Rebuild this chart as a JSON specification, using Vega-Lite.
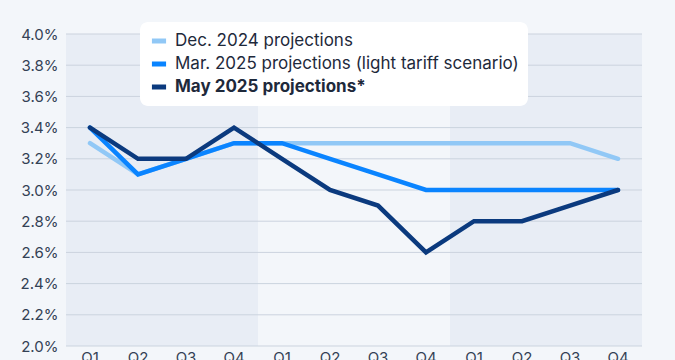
{
  "$schema": "https://vega.github.io/schema/vega-lite/v6.json",
  "autosize": {"type": "none"},
  "width": 576,
  "height": 312,
  "padding": {"left": 66, "top": 34, "right": 33, "bottom": 14},
  "background": "#f3f6fa",
  "config": {
    "view": {"stroke": null},
    "font": "Inter",
    "axis": {"labelFont": "Inter", "labelColor": "#334155", "labelFontSize": 15, "domain": false, "ticks": false, "grid": false, "title": null, "labelOverlap": false}
  },
  "datasets": {
    "bands": [
      {"q": "2025 Q1", "year": "2025"}, {"q": "2025 Q2", "year": "2025"}, {"q": "2025 Q3", "year": "2025"}, {"q": "2025 Q4", "year": "2025"},
      {"q": "2026 Q1", "year": "2026"}, {"q": "2026 Q2", "year": "2026"}, {"q": "2026 Q3", "year": "2026"}, {"q": "2026 Q4", "year": "2026"},
      {"q": "2027 Q1", "year": "2027"}, {"q": "2027 Q2", "year": "2027"}, {"q": "2027 Q3", "year": "2027"}, {"q": "2027 Q4", "year": "2027"}
    ],
    "grid": [{"v": 2.0}, {"v": 2.2}, {"v": 2.4}, {"v": 2.6}, {"v": 2.8}, {"v": 3.0}, {"v": 3.2}, {"v": 3.4}, {"v": 3.6}, {"v": 3.8}, {"v": 4.0}],
    "lines": [
      {"q": "2025 Q1", "series": "Dec. 2024 projections", "value": 3.3},
      {"q": "2025 Q2", "series": "Dec. 2024 projections", "value": 3.1},
      {"q": "2025 Q3", "series": "Dec. 2024 projections", "value": 3.2},
      {"q": "2025 Q4", "series": "Dec. 2024 projections", "value": 3.3},
      {"q": "2026 Q1", "series": "Dec. 2024 projections", "value": 3.3},
      {"q": "2026 Q2", "series": "Dec. 2024 projections", "value": 3.3},
      {"q": "2026 Q3", "series": "Dec. 2024 projections", "value": 3.3},
      {"q": "2026 Q4", "series": "Dec. 2024 projections", "value": 3.3},
      {"q": "2027 Q1", "series": "Dec. 2024 projections", "value": 3.3},
      {"q": "2027 Q2", "series": "Dec. 2024 projections", "value": 3.3},
      {"q": "2027 Q3", "series": "Dec. 2024 projections", "value": 3.3},
      {"q": "2027 Q4", "series": "Dec. 2024 projections", "value": 3.2},
      {"q": "2025 Q1", "series": "Mar. 2025 projections (light tariff scenario)", "value": 3.4},
      {"q": "2025 Q2", "series": "Mar. 2025 projections (light tariff scenario)", "value": 3.1},
      {"q": "2025 Q3", "series": "Mar. 2025 projections (light tariff scenario)", "value": 3.2},
      {"q": "2025 Q4", "series": "Mar. 2025 projections (light tariff scenario)", "value": 3.3},
      {"q": "2026 Q1", "series": "Mar. 2025 projections (light tariff scenario)", "value": 3.3},
      {"q": "2026 Q2", "series": "Mar. 2025 projections (light tariff scenario)", "value": 3.2},
      {"q": "2026 Q3", "series": "Mar. 2025 projections (light tariff scenario)", "value": 3.1},
      {"q": "2026 Q4", "series": "Mar. 2025 projections (light tariff scenario)", "value": 3.0},
      {"q": "2027 Q1", "series": "Mar. 2025 projections (light tariff scenario)", "value": 3.0},
      {"q": "2027 Q2", "series": "Mar. 2025 projections (light tariff scenario)", "value": 3.0},
      {"q": "2027 Q3", "series": "Mar. 2025 projections (light tariff scenario)", "value": 3.0},
      {"q": "2027 Q4", "series": "Mar. 2025 projections (light tariff scenario)", "value": 3.0},
      {"q": "2025 Q1", "series": "May 2025 projections*", "value": 3.4},
      {"q": "2025 Q2", "series": "May 2025 projections*", "value": 3.2},
      {"q": "2025 Q3", "series": "May 2025 projections*", "value": 3.2},
      {"q": "2025 Q4", "series": "May 2025 projections*", "value": 3.4},
      {"q": "2026 Q1", "series": "May 2025 projections*", "value": 3.2},
      {"q": "2026 Q2", "series": "May 2025 projections*", "value": 3.0},
      {"q": "2026 Q3", "series": "May 2025 projections*", "value": 2.9},
      {"q": "2026 Q4", "series": "May 2025 projections*", "value": 2.6},
      {"q": "2027 Q1", "series": "May 2025 projections*", "value": 2.8},
      {"q": "2027 Q2", "series": "May 2025 projections*", "value": 2.8},
      {"q": "2027 Q3", "series": "May 2025 projections*", "value": 2.9},
      {"q": "2027 Q4", "series": "May 2025 projections*", "value": 3.0}
    ]
  },
  "layer": [
    {
      "data": {"name": "bands"},
      "mark": {"type": "rect"},
      "encoding": {
        "x": {"field": "q", "type": "ordinal", "scale": {"paddingInner": 0, "paddingOuter": 0},
              "axis": {"labelExpr": "split(datum.value, ' ')[1]", "labelPadding": 4, "labelAngle": 0, "labelBaseline": "top"}},
        "fill": {"field": "year", "type": "nominal", "scale": {"domain": ["2025", "2026", "2027"], "range": ["#e8edf5", "#f3f6fa", "#e8edf5"]}, "legend": null}
      }
    },
    {
      "data": {"name": "grid"},
      "mark": {"type": "rule", "color": "#cbd3de", "strokeWidth": 1},
      "encoding": {
        "y": {"field": "v", "type": "quantitative",
              "scale": {"domain": [2.0, 4.0], "nice": false, "zero": false},
              "axis": {"values": [2.0, 2.2, 2.4, 2.6, 2.8, 3.0, 3.2, 3.4, 3.6, 3.8, 4.0], "labelExpr": "format(datum.value, '.1f') + '%'", "labelPadding": 8, "labelOverlap": false}}
      }
    },
    {
      "data": {"name": "lines"},
      "mark": {"type": "line", "strokeWidth": 4.5, "strokeCap": "round", "strokeJoin": "miter"},
      "encoding": {
        "x": {"field": "q", "type": "ordinal"},
        "y": {"field": "value", "type": "quantitative",
              "scale": {"domain": [2.0, 4.0], "nice": false, "zero": false},
              "axis": {"values": [2.0, 2.2, 2.4, 2.6, 2.8, 3.0, 3.2, 3.4, 3.6, 3.8, 4.0], "labelExpr": "format(datum.value, '.1f') + '%'", "labelPadding": 8, "labelOverlap": false}},
        "color": {"field": "series", "type": "nominal",
                  "scale": {"domain": ["Dec. 2024 projections", "Mar. 2025 projections (light tariff scenario)", "May 2025 projections*"], "range": ["#91c8f6", "#0a84ff", "#0b3a7e"]},
                  "legend": {
                    "title": null, "orient": "none", "legendX": 74, "legendY": -12,
                    "fillColor": "#ffffff", "cornerRadius": 8, "padding": 9,
                    "symbolType": "stroke", "symbolStrokeWidth": 5, "symbolSize": 200,
                    "labelFont": "Inter", "labelFontSize": 17, "labelColor": "#1e293b", "labelLimit": 500,
                    "rowPadding": 3, "labelOffset": 6,
                    "encode": {"labels": {"update": {"fontWeight": {"signal": "datum.value === 'May 2025 projections*' ? 'bold' : 'normal'"}}}}
                  }}
      }
    }
  ]
}
